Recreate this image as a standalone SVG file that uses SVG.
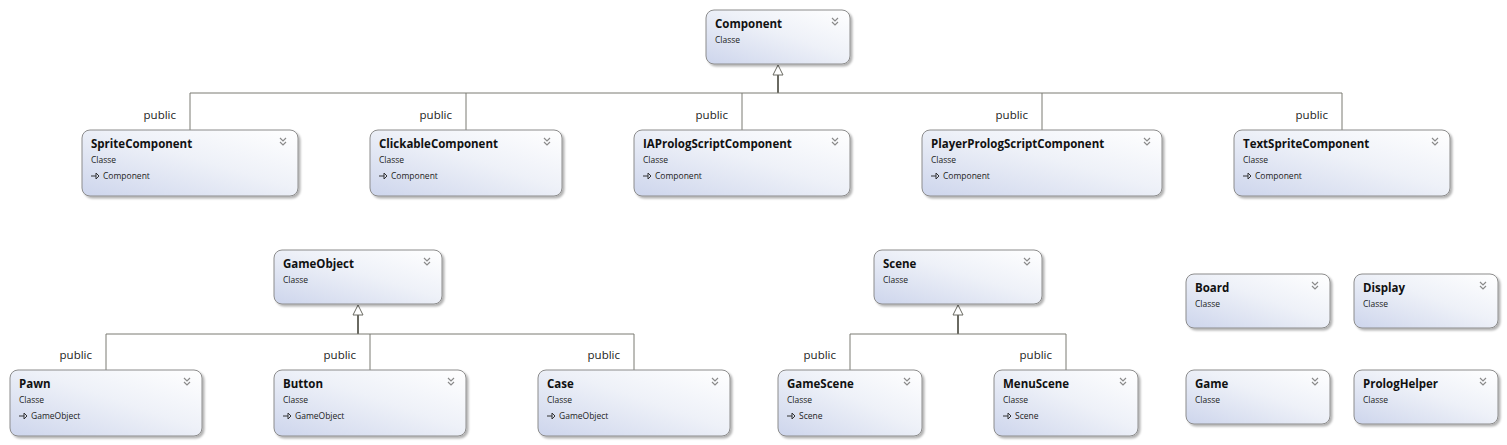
<svg xmlns="http://www.w3.org/2000/svg" width="1507" height="445" viewBox="0 0 1507 445">
<style>
.box{fill:url(#g);stroke:#8c8c8c;stroke-width:1;filter:url(#sh)}
.t{font-family:"Open Sans","Liberation Sans",sans-serif;font-weight:bold;font-size:11.5px;fill:#111}
.s{font-family:"Open Sans","Liberation Sans",sans-serif;font-size:8.5px;fill:#222}
.p{font-family:"Open Sans","Liberation Sans",sans-serif;font-size:11.5px;fill:#222;text-anchor:end}
.ln{stroke:#7a7a72;stroke-width:1;fill:none}
.stem{stroke:#6a6a62;stroke-width:2;fill:none}
.tri{fill:#fff;stroke:#6a6a62;stroke-width:1}
.chev{fill:none;stroke:#8a8a8a;stroke-width:1.2}
.ic{fill:none;stroke:#333;stroke-width:1}
</style>
<defs>
<linearGradient id="g" x1="0" y1="1" x2="1" y2="0">
<stop offset="0" stop-color="#cdd5ec"/>
<stop offset="0.55" stop-color="#eef1f8"/>
<stop offset="1" stop-color="#ffffff"/>
</linearGradient>
<filter id="sh" x="-5%" y="-5%" width="115%" height="125%">
<feDropShadow dx="2" dy="2" stdDeviation="1.2" flood-color="#000" flood-opacity="0.3"/>
</filter>
<g id="cv"><path class="chev" d="M-3,-3 L0,0 L3,-3 M-3,1 L0,4 L3,1"/></g>
<g id="ar"><path class="ic" d="M0,0 H5 M5,-3 L8,0 L5,3 Z"/></g>
</defs>

<g id="connectors">
<path class="stem" d="M778,75 V93"/>
<path class="ln" d="M190,93 H1342 M190,93 V130 M466,93 V130 M742,93 V130 M1042,93 V130 M1342,93 V130"/>
<path class="tri" d="M778,65 L773,75 H783 Z"/>
<path class="stem" d="M358,315 V334"/>
<path class="ln" d="M106,334 H634 M106,334 V370 M370,334 V370 M634,334 V370"/>
<path class="tri" d="M358,305 L353,315 H363 Z"/>
<path class="stem" d="M958,315 V334"/>
<path class="ln" d="M850,334 H1066 M850,334 V370 M1066,334 V370"/>
<path class="tri" d="M958,305 L953,315 H963 Z"/>
<text class="p" x="176" y="119">public</text>
<text class="p" x="452" y="119">public</text>
<text class="p" x="728" y="119">public</text>
<text class="p" x="1028" y="119">public</text>
<text class="p" x="1328" y="119">public</text>
<text class="p" x="92" y="359">public</text>
<text class="p" x="356" y="359">public</text>
<text class="p" x="620" y="359">public</text>
<text class="p" x="836" y="359">public</text>
<text class="p" x="1052" y="359">public</text>
</g>

<g id="Component"><rect class="box" x="706" y="10" width="144" height="54" rx="8"/><text class="t" x="715" y="28">Component</text><text class="s" x="715" y="43">Classe</text><use href="#cv" x="835" y="21"/></g>

<g id="SpriteComponent"><rect class="box" x="82" y="130" width="216" height="66" rx="8"/><text class="t" x="91" y="148">SpriteComponent</text><text class="s" x="91" y="163">Classe</text><use href="#ar" x="91" y="176"/><text class="s" x="103" y="179">Component</text><use href="#cv" x="283" y="141"/></g>
<g id="ClickableComponent"><rect class="box" x="370" y="130" width="192" height="66" rx="8"/><text class="t" x="379" y="148">ClickableComponent</text><text class="s" x="379" y="163">Classe</text><use href="#ar" x="379" y="176"/><text class="s" x="391" y="179">Component</text><use href="#cv" x="547" y="141"/></g>
<g id="IAPrologScriptComponent"><rect class="box" x="634" y="130" width="216" height="66" rx="8"/><text class="t" x="643" y="148">IAPrologScriptComponent</text><text class="s" x="643" y="163">Classe</text><use href="#ar" x="643" y="176"/><text class="s" x="655" y="179">Component</text><use href="#cv" x="835" y="141"/></g>
<g id="PlayerPrologScriptComponent"><rect class="box" x="922" y="130" width="240" height="66" rx="8"/><text class="t" x="931" y="148">PlayerPrologScriptComponent</text><text class="s" x="931" y="163">Classe</text><use href="#ar" x="931" y="176"/><text class="s" x="943" y="179">Component</text><use href="#cv" x="1147" y="141"/></g>
<g id="TextSpriteComponent"><rect class="box" x="1234" y="130" width="216" height="66" rx="8"/><text class="t" x="1243" y="148">TextSpriteComponent</text><text class="s" x="1243" y="163">Classe</text><use href="#ar" x="1243" y="176"/><text class="s" x="1255" y="179">Component</text><use href="#cv" x="1435" y="141"/></g>

<g id="GameObject"><rect class="box" x="274" y="250" width="168" height="54" rx="8"/><text class="t" x="283" y="268">GameObject</text><text class="s" x="283" y="283">Classe</text><use href="#cv" x="427" y="261"/></g>
<g id="Scene"><rect class="box" x="874" y="250" width="168" height="54" rx="8"/><text class="t" x="883" y="268">Scene</text><text class="s" x="883" y="283">Classe</text><use href="#cv" x="1027" y="261"/></g>
<g id="Board"><rect class="box" x="1186" y="274" width="144" height="54" rx="8"/><text class="t" x="1195" y="292">Board</text><text class="s" x="1195" y="307">Classe</text><use href="#cv" x="1315" y="285"/></g>
<g id="Display"><rect class="box" x="1354" y="274" width="144" height="54" rx="8"/><text class="t" x="1363" y="292">Display</text><text class="s" x="1363" y="307">Classe</text><use href="#cv" x="1483" y="285"/></g>

<g id="Pawn"><rect class="box" x="10" y="370" width="192" height="66" rx="8"/><text class="t" x="19" y="388">Pawn</text><text class="s" x="19" y="403">Classe</text><use href="#ar" x="19" y="416"/><text class="s" x="31" y="419">GameObject</text><use href="#cv" x="187" y="381"/></g>
<g id="Button"><rect class="box" x="274" y="370" width="192" height="66" rx="8"/><text class="t" x="283" y="388">Button</text><text class="s" x="283" y="403">Classe</text><use href="#ar" x="283" y="416"/><text class="s" x="295" y="419">GameObject</text><use href="#cv" x="451" y="381"/></g>
<g id="Case"><rect class="box" x="538" y="370" width="192" height="66" rx="8"/><text class="t" x="547" y="388">Case</text><text class="s" x="547" y="403">Classe</text><use href="#ar" x="547" y="416"/><text class="s" x="559" y="419">GameObject</text><use href="#cv" x="715" y="381"/></g>
<g id="GameScene"><rect class="box" x="778" y="370" width="144" height="66" rx="8"/><text class="t" x="787" y="388">GameScene</text><text class="s" x="787" y="403">Classe</text><use href="#ar" x="787" y="416"/><text class="s" x="799" y="419">Scene</text><use href="#cv" x="907" y="381"/></g>
<g id="MenuScene"><rect class="box" x="994" y="370" width="144" height="66" rx="8"/><text class="t" x="1003" y="388">MenuScene</text><text class="s" x="1003" y="403">Classe</text><use href="#ar" x="1003" y="416"/><text class="s" x="1015" y="419">Scene</text><use href="#cv" x="1123" y="381"/></g>
<g id="Game"><rect class="box" x="1186" y="370" width="144" height="54" rx="8"/><text class="t" x="1195" y="388">Game</text><text class="s" x="1195" y="403">Classe</text><use href="#cv" x="1315" y="381"/></g>
<g id="PrologHelper"><rect class="box" x="1354" y="370" width="144" height="54" rx="8"/><text class="t" x="1363" y="388">PrologHelper</text><text class="s" x="1363" y="403">Classe</text><use href="#cv" x="1483" y="381"/></g>
</svg>
